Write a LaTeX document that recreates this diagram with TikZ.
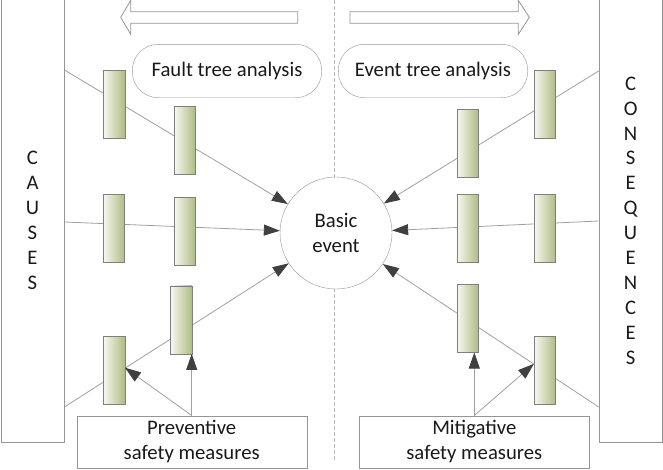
\documentclass[tikz,border=0pt]{standalone}
\usepackage{fontspec}
\setmainfont{Carlito}
\usetikzlibrary{arrows.meta,backgrounds}
\definecolor{linegray}{HTML}{A0A0A0}
\definecolor{boxgray}{HTML}{959595}
\definecolor{tipgray}{HTML}{404040}
\definecolor{barlight}{HTML}{F7F8F0}
\definecolor{bardark}{HTML}{AFBC84}

\begin{document}
\begin{tikzpicture}[x=1pt,y=-1pt,
	txt/.style={font=\fontsize{20.7}{24.9}\selectfont, text=black!90},
	sidebox/.style={draw=boxgray, rectangle, minimum width=63.5pt, minimum height=443pt, inner sep=0pt, align=center, txt},
	bar/.style={draw=boxgray!85!black, rectangle, minimum width=21.5pt, minimum height=68pt, inner sep=0pt, left color=barlight, right color=bardark},
	pill/.style={draw=boxgray, rectangle, rounded corners=26pt, minimum width=189.4pt, minimum height=53.4pt, txt},
	measure/.style={draw=boxgray, rectangle, minimum width=230pt, minimum height=52pt, align=center, txt},
	conn/.style={draw=linegray, line width=0.8pt, -{Triangle[length=16pt,width=11pt,color=tipgray]}}
]
	\useasboundingbox (0,0) rectangle (663,469);

	% side boxes
	\node[sidebox] (causes) at (32.5,220.5) {C\\A\\U\\S\\E\\S};
	\node[sidebox] (conseq) at (630.6,220.5) {C\\O\\N\\S\\E\\Q\\U\\E\\N\\C\\E\\S};

	% direction arrows
	\draw[boxgray, line width=0.8pt] (297.7,11.7) -- (130.7,11.7) -- (130.7,0.5) -- (120.7,17.3)
		-- (130.7,34.3) -- (130.7,23.3) -- (297.7,23.3) -- cycle;
	\draw[boxgray, line width=0.8pt] (350,11.7) -- (518.3,11.7) -- (518.3,0.5) -- (529.3,17.3)
		-- (518.3,34.3) -- (518.3,23.3) -- (350,23.3) -- cycle;

	\node[pill] (fta) at (227,71) {Fault tree analysis};
	\node[pill] (eta) at (433,71) {Event tree analysis};

	\node[circle, draw=boxgray, fill=white, minimum size=112pt, inner sep=0pt, align=center, txt] (basic) at (336,233) {Basic\\event};

	% barriers, causes side
	\node[bar] (lbar1) at (114,104.3) {};
	\node[bar] (lbar2) at (184.5,140) {};
	\node[bar] (lbar3) at (113.8,228.5) {};
	\node[bar] (lbar4) at (184.5,231.3) {};
	\node[bar] (lbar5) at (181,319.7) {};
	\node[bar] (lbar6) at (114,370.2) {};
	% barriers, consequences side
	\node[bar] (rbar1) at (544.8,104) {};
	\node[bar] (rbar2) at (467.5,143.3) {};
	\node[bar] (rbar3) at (467.5,228.5) {};
	\node[bar] (rbar4) at (544.8,228.5) {};
	\node[bar] (rbar5) at (467.5,318.3) {};
	\node[bar] (rbar6) at (544.8,370.2) {};

	\node[measure] (prev) at (191.7,441.7) {Preventive\\safety measures};
	\node[measure] (mitig) at (474.3,441.7) {Mitigative\\safety measures};

	\coordinate (ca1) at (causes.east |- 0,70);
	\coordinate (ca2) at (causes.east |- 0,222);
	\coordinate (ca3) at (causes.east |- 0,407);
	\coordinate (co1) at (conseq.west |- 0,71);
	\coordinate (co2) at (conseq.west |- 0,221);
	\coordinate (co3) at (conseq.west |- 0,407);

	\begin{scope}[on background layer]
		\draw[gray!55, line width=1pt, dash pattern=on 4pt off 2pt] (334.5,0) -- (334.5,462);
		\draw[conn] (ca1) -- (basic);
		\draw[conn] (ca2) -- (basic);
		\draw[conn] (ca3) -- (basic);
		\draw[conn] (co1) -- (basic);
		\draw[conn] (co2) -- (basic);
		\draw[conn] (co3) -- (basic);
	\end{scope}

	\draw[conn] (prev.north) -- (prev.north |- lbar5.south);
	\draw[conn] (prev.north) -- (lbar6.13);
	\draw[conn] (mitig.north) -- (mitig.north |- rbar5.south);
	\draw[conn] (mitig.north) -- (rbar6.150);
\end{tikzpicture}
\end{document}
